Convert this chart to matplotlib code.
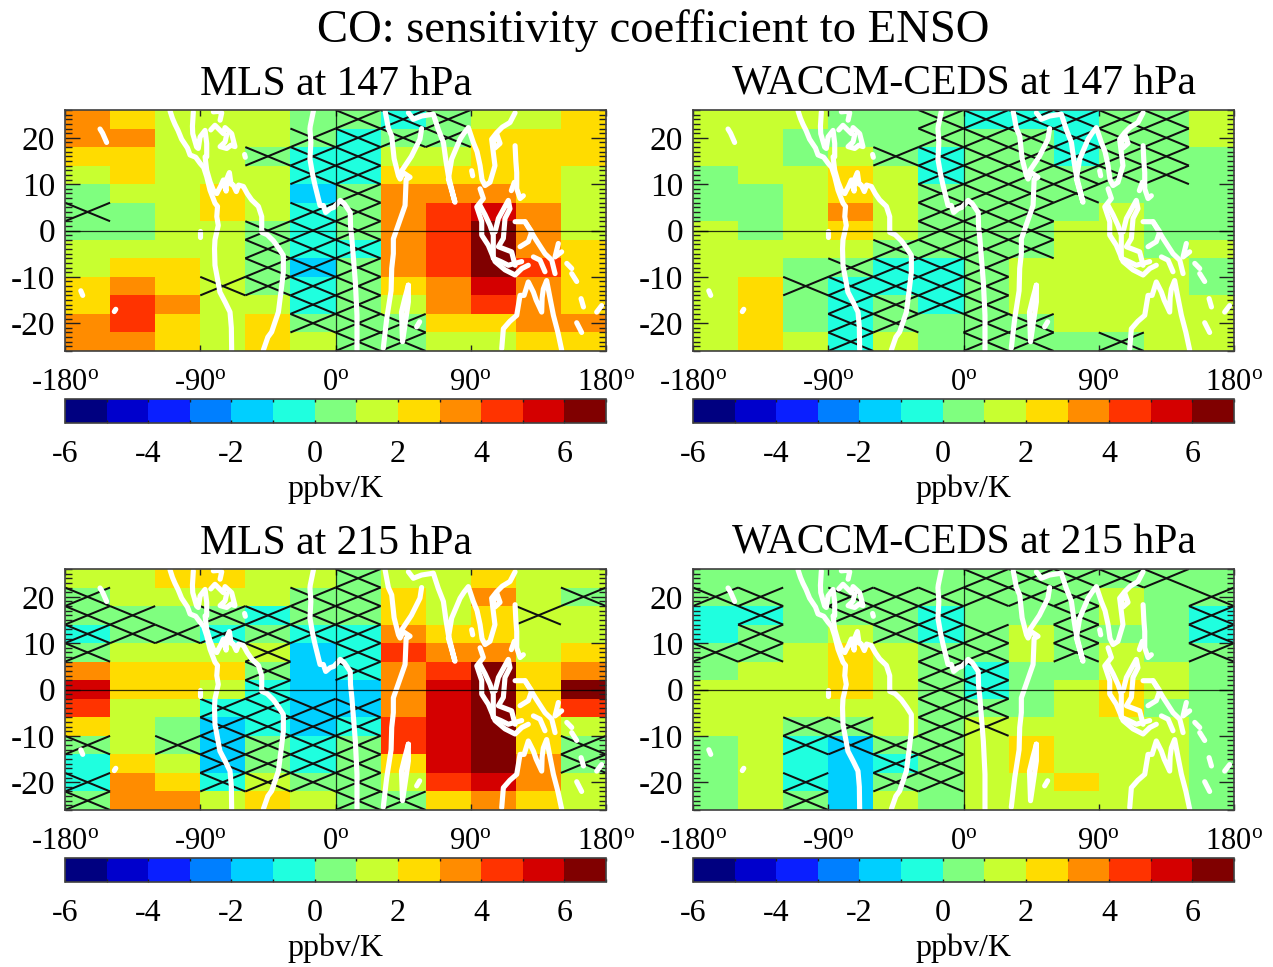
import numpy as np
import matplotlib
matplotlib.use("Agg")
import matplotlib.pyplot as plt
from matplotlib.colors import ListedColormap, BoundaryNorm
from matplotlib.cm import ScalarMappable
from matplotlib.ticker import FixedLocator

plt.rcParams['font.family'] = ['Liberation Serif', 'DejaVu Serif']
plt.rcParams['mathtext.fontset'] = 'custom'
plt.rcParams['mathtext.rm'] = 'Liberation Serif'
plt.rcParams['mathtext.it'] = 'Liberation Serif'

LEVEL_COLORS = ['#000080', '#0000cc', '#0a1fff', '#007fff', '#00cfff', '#1fffdf', '#7fff7f',
                '#c8ff30', '#ffdc00', '#ff8c00', '#ff3300', '#d40000', '#800000']
LEVELS = list(range(-6, 8))
CBAR_TICKS = [-6, -4, -2, 0, 2, 4, 6]
LON_TICKS = [-180, -90, 0, 90, 180]
LAT_TICKS = [-20, -10, 0, 10, 20]
LON_CENTERS = [-165, -135, -105, -75, -45, -15, 15, 45, 75, 105, 135, 165]
LAT_CENTERS = [24, 20, 16, 12, 8, 4, 0, -4, -8, -12, -16, -20, -24]

# each inner list is one longitude column, from the northern row to the southern row
MLS_147 = [
    [3.5, 3.5, 2.5, 1.5, 0.5, 0.5, 0.5, 1.5, 1.5, 2.5, 2.5, 3.5, 3.5],
    [2.5, 3.5, 2.5, 2.5, 1.5, 0.5, 0.5, 1.5, 2.5, 3.5, 4.5, 4.5, 3.5],
    [1.5, 1.5, 1.5, 1.5, 1.5, 1.5, 1.5, 1.5, 2.5, 2.5, 3.5, 2.5, 2.5],
    [1.5, 1.5, 1.5, 1.5, 2.5, 2.5, 1.5, 1.5, 1.5, 1.5, 1.5, 1.5, 1.5],
    [1.5, 1.5, 0.5, 1.5, 1.5, 1.5, 0.5, 0.5, 0.5, 0.5, 1.5, 2.5, 2.5],
    [0.5, 0.5, -0.5, -0.5, -1.5, -0.5, -0.5, -0.5, -1.5, -0.5, -0.5, 0.5, 1.5],
    [0.5, -0.5, -0.5, -0.5, 0.5, 0.5, 0.5, -0.5, 0.5, 0.5, 0.5, 0.5, 0.5],
    [-0.5, 0.5, 1.5, 2.5, 3.5, 3.5, 3.5, 3.5, 3.5, 2.5, 1.5, 0.5, 0.5],
    [0.5, 0.5, 1.5, 2.5, 3.5, 4.5, 4.5, 4.5, 4.5, 3.5, 3.5, 2.5, 1.5],
    [1.5, 2.5, 2.5, 2.5, 3.5, 5.5, 6.5, 6.5, 6.5, 5.5, 4.5, 2.5, 1.5],
    [1.5, 2.5, 2.5, 2.5, 2.5, 3.5, 3.5, 3.5, 4.5, 3.5, 3.5, 3.5, 2.5],
    [2.5, 2.5, 2.5, 1.5, 1.5, 1.5, 1.5, 2.5, 2.5, 2.5, 2.5, 3.5, 2.5],
]
WACCM_147 = [
    [1.5, 1.5, 1.5, 0.5, 0.5, 0.5, 1.5, 1.5, 1.5, 1.5, 1.5, 1.5, 1.5],
    [1.5, 1.5, 1.5, 1.5, 0.5, 0.5, 0.5, 1.5, 1.5, 2.5, 2.5, 2.5, 2.5],
    [1.5, 0.5, 0.5, 1.5, 1.5, 1.5, 1.5, 1.5, 0.5, 0.5, 0.5, 0.5, 1.5],
    [0.5, 0.5, 1.5, 2.5, 2.5, 3.5, 2.5, 1.5, 0.5, -0.5, -0.5, -0.5, -0.5],
    [0.5, 0.5, 0.5, 1.5, 1.5, 1.5, 1.5, 0.5, -0.5, -0.5, 0.5, 0.5, 1.5],
    [0.5, 0.5, -0.5, -0.5, 0.5, 0.5, 0.5, 0.5, -0.5, -0.5, -0.5, 0.5, 0.5],
    [-0.5, 0.5, 0.5, 0.5, 0.5, 0.5, 0.5, 0.5, 0.5, 0.5, 0.5, 0.5, 0.5],
    [-0.5, 0.5, 0.5, 0.5, 0.5, 0.5, 0.5, 0.5, 1.5, 1.5, 1.5, 0.5, 0.5],
    [-0.5, -0.5, -0.5, 0.5, 0.5, 0.5, 1.5, 1.5, 1.5, 1.5, 1.5, 1.5, 0.5],
    [0.5, 0.5, 0.5, 0.5, 0.5, 1.5, 1.5, 1.5, 1.5, 1.5, 1.5, 1.5, 0.5],
    [0.5, 0.5, 0.5, 0.5, 0.5, 0.5, 0.5, 0.5, 1.5, 1.5, 1.5, 1.5, 1.5],
    [1.5, 1.5, 0.5, 0.5, 0.5, 0.5, 0.5, 1.5, 0.5, 0.5, 1.5, 1.5, 1.5],
]
MLS_215 = [
    [1.5, 0.5, 0.5, -0.5, 0.5, 3.5, 5.5, 4.5, 2.5, 0.5, -0.5, -0.5, 0.5],
    [1.5, 1.5, 0.5, 0.5, 1.5, 2.5, 2.5, 1.5, 1.5, 1.5, 2.5, 3.5, 3.5],
    [2.5, 1.5, 0.5, 0.5, 1.5, 2.5, 2.5, 1.5, 0.5, 0.5, 1.5, 2.5, 3.5],
    [2.5, 1.5, 0.5, -0.5, 1.5, 2.5, 1.5, -0.5, -1.5, -1.5, -1.5, -0.5, 1.5],
    [1.5, 1.5, -0.5, 0.5, 1.5, 0.5, -0.5, -0.5, -0.5, 0.5, 0.5, 1.5, 2.5],
    [1.5, 0.5, 0.5, -0.5, -1.5, -1.5, -1.5, -1.5, -1.5, -0.5, -0.5, 0.5, 1.5],
    [0.5, 0.5, 0.5, -0.5, -0.5, -0.5, -1.5, -1.5, -0.5, 0.5, 0.5, 0.5, 0.5],
    [1.5, 2.5, 2.5, 3.5, 4.5, 3.5, 3.5, 3.5, 4.5, 4.5, 2.5, 1.5, 0.5],
    [1.5, 1.5, 1.5, 2.5, 3.5, 4.5, 5.5, 5.5, 5.5, 5.5, 5.5, 4.5, 2.5],
    [2.5, 3.5, 2.5, 2.5, 3.5, 6.5, 6.5, 6.5, 6.5, 6.5, 6.5, 5.5, 3.5],
    [1.5, 1.5, 1.5, 1.5, 1.5, 2.5, 2.5, 2.5, 2.5, 2.5, 3.5, 3.5, 2.5],
    [1.5, 0.5, 1.5, 1.5, 2.5, 3.5, 6.5, 4.5, 1.5, 0.5, 0.5, 1.5, 1.5],
]
WACCM_215 = [
    [0.5, 0.5, -0.5, -0.5, 0.5, 0.5, 1.5, 1.5, 1.5, 0.5, 0.5, 0.5, 0.5],
    [0.5, 0.5, -0.5, 0.5, 0.5, 1.5, 1.5, 1.5, 1.5, 1.5, 1.5, 1.5, 1.5],
    [0.5, 0.5, 0.5, 0.5, 1.5, 1.5, 1.5, 1.5, 0.5, -0.5, -0.5, -0.5, 0.5],
    [0.5, 0.5, 0.5, 1.5, 2.5, 2.5, 2.5, 1.5, 0.5, -1.5, -1.5, -1.5, -1.5],
    [0.5, 0.5, 0.5, 0.5, 1.5, 1.5, 1.5, 1.5, 1.5, 0.5, -0.5, 0.5, 1.5],
    [0.5, 0.5, -0.5, -0.5, 0.5, 0.5, 0.5, 0.5, 0.5, 0.5, 0.5, 0.5, 0.5],
    [0.5, 0.5, 0.5, 0.5, 0.5, -0.5, -0.5, 0.5, 1.5, 1.5, 1.5, 1.5, 1.5],
    [0.5, 0.5, 0.5, 1.5, 1.5, 0.5, 0.5, 0.5, 1.5, 2.5, 2.5, 1.5, 1.5],
    [0.5, 0.5, 0.5, 0.5, 0.5, 0.5, 1.5, 1.5, 1.5, 1.5, 1.5, 2.5, 1.5],
    [0.5, 1.5, 1.5, 0.5, 1.5, 1.5, 2.5, 2.5, 1.5, 1.5, 1.5, 1.5, 1.5],
    [0.5, 0.5, 0.5, 0.5, 0.5, 1.5, 1.5, 0.5, 1.5, 1.5, 1.5, 1.5, 1.5],
    [0.5, 0.5, -0.5, -0.5, 0.5, 0.5, 0.5, 0.5, 0.5, 0.5, 0.5, 0.5, 0.5],
]

# crossed (not significant) cells: longitude column index -> row indices
ALL_ROWS = list(range(13))
HATCH_MLS_147 = {0: [5], 3: [9], 4: [2, 6, 7, 8, 9], 5: [1, 2, 3, 5, 6, 7, 8, 9, 10, 11],
                 6: ALL_ROWS, 7: [0, 1, 11, 12], 8: [0, 1]}
HATCH_WACCM_147 = {2: [9], 3: [8, 9, 10, 11, 12], 4: [2, 7, 8, 9, 10, 11],
                   5: list(range(11)), 6: ALL_ROWS, 7: [0, 1, 2, 3, 4, 5, 6, 7, 11, 12],
                   8: [0, 1, 2, 3, 4], 9: [0, 1, 2, 3, 12], 10: [0, 1, 2, 3]}
HATCH_MLS_215 = {0: [1, 2, 3, 4, 9, 11, 12], 1: [2, 3], 2: [3, 9], 3: [2, 3, 7, 8, 9, 10, 11],
                 4: [2, 3, 4, 5, 6, 7, 8, 9, 10, 11], 5: [1, 2, 3, 7, 8, 9, 10, 11],
                 6: [0, 1, 2, 3, 4, 5, 7, 8, 9, 10, 11, 12], 7: [12], 10: [2], 11: [1, 9, 10]}
HATCH_WACCM_215 = {0: [1, 4], 1: [1, 2, 3, 4], 2: [8, 9, 11, 12], 3: [1, 2, 8, 9],
                   4: [1, 2, 3, 9, 10, 11], 5: [1, 2, 3, 4, 5, 6, 7, 8, 9, 10, 11],
                   6: [0, 1, 3, 4, 5, 6, 7, 8], 7: [0, 1], 8: [0, 1, 2, 3, 4], 9: [0], 10: [0],
                   11: [1, 2, 3, 4]}

# coastlines as (lon, lat) polylines
COASTS = [
    # Central and South America, Pacific side
    [(-110.1, 25.8), (-108.5, 24.2), (-106.8, 22.9), (-104.8, 21.6), (-102.4, 19.7), (-98.5, 17.8), (-96.8, 16.3),
     (-93, 15.8), (-90.1, 14.5), (-87.7, 13.6), (-85.7, 11.6), (-83.5, 8.7), (-80.2, 5.9), (-78.5, 5.2),
     (-79, 3), (-78, 1.1), (-80.2, -2), (-80.5, -3.9), (-80.2, -7.5), (-76.9, -13.3),
     (-73.2, -15.6), (-70.2, -17.6), (-69.3, -21), (-69.1, -25.8)],
    # Gulf of Mexico and Caribbean side
    [(-94.6, 25.6), (-95.2, 22.5), (-95, 20.9), (-92.4, 18), (-91.3, 17.7), (-90.1, 20.2), (-86.8, 21.6),
     (-85.7, 18.8), (-85.7, 15.9), (-86.8, 15.9), (-85.7, 13), (-83.5, 10.5), (-81.3, 8.7), (-79, 8)],
    # Greater Antilles
    [(-83, 21.7), (-80.2, 22.7), (-74.6, 20.9), (-73.5, 22.2), (-69.1, 20.9), (-68, 19.5), (-66.9, 18.1),
     (-69.6, 18.4), (-72.4, 17.7), (-76.8, 18.1), (-73.5, 19.1), (-72.5, 20.5)],
    [(-81.3, 25.6), (-78, 25.7), (-75.7, 25.4), (-76.8, 23.8)],
    # South America, Atlantic side
    [(-79, 8), (-76.5, 9.5), (-74.6, 10.9), (-72.8, 8.5), (-72.4, 11.1), (-70.6, 12.5), (-69.5, 10),
     (-68, 9.8), (-66, 8.4), (-64.5, 9.8), (-61.3, 9.5), (-58.8, 8), (-55.8, 6.6), (-51.3, 5.2), (-49.1, 3),
     (-49.1, -0.4), (-45.5, -0.9), (-41.4, -2.2), (-37.8, -3.8), (-34.7, -5.4), (-34.7, -9), (-36.2, -13), (-38, -17.6),
     (-42.5, -21.9), (-45, -23), (-48, -25.8)],
    # small islands
    [(-156.7, 21.9), (-155, 21), (-152.3, 19)],
    [(-169.5, -13), (-168.2, -14)],
    [(-147.2, -17.5), (-146.2, -17)],
    [(-90.2, -0.2), (-90.2, -1.5)],
    [(-60.5, 16.4), (-60, 15.8)],
    # West Africa
    [(-14.7, 25.8), (-16.8, 22.5), (-17, 21.9), (-16.4, 19), (-17, 15.4), (-15.3, 12.2), (-13.6, 9.7), (-10.3, 5.4),
     (-8.1, 5.4), (-6.5, 3.9), (-3.6, 4.7), (-1, 5), (3.1, 6.5), (5.8, 5.8), (9.8, 3.9), (10, 1), (10.9, -1.8),
     (13.2, -11.1), (14.3, -18.3), (14.3, -25.8)],
    # East Africa
    [(33, 25.8), (35.2, 22), (37.4, 20.4), (39, 15.5), (41.9, 11.8), (43, 11.1), (45, 12.5), (49.6, 11.5),
     (47, 11), (46.3, 5.4), (41, 0.5), (38.5, -1.8), (38.5, -5), (37.4, -8.2), (37, -13), (34.1, -19), (33, -22), (31.8, -25.4)],
    # Arabia
    [(57.3, 22), (56.2, 19.7), (50.5, 16), (43.9, 12.8)],
    # Madagascar
    [(48.5, -11.8), (46, -14.8), (43.9, -17.6), (44.6, -24), (48.5, -15.4), (48.5, -11.8)],
    [(54, -20.8), (56, -19.7)],
    # Arabia, India, Bay of Bengal, Indochina, China
    [(48.5, 25.4), (51.8, 24), (57.3, 24.7), (65.1, 25.1), (68.4, 21.8), (71.8, 19), (73.5, 15), (75.1, 11.8),
     (79.5, 6.1), (75.1, 11.1), (77.3, 15.4), (82.9, 19.7), (85.5, 21), (88.4, 22.2), (91.7, 19), (94.2, 17), (96.2, 14),
     (97.5, 11), (99.5, 9.7), (102.8, 10.4), (106.1, 14), (103.9, 19.7), (107.3, 21.1), (111, 22.3), (116.1, 23.3),
     (119.5, 25.4)],
    # Hainan and Andaman
    [(105, 18.8), (107.3, 20.8), (109.5, 18.8), (106.1, 17.8), (105, 18.8)],
    [(90.6, 12.9), (91.3, 11.8)],
    # Sumatra and Java
    [(96.2, 9), (98.4, 6.9), (94, 5.1), (97.3, 1.9), (97.3, -1), (101.7, -3.2), (106.2, -6.7), (112.8, -8.5),
     (119.5, -9.6), (124, -8.2), (128.3, -7.5)],
    # Malaya
    [(96.2, 5.4), (99.5, 3.4), (102.8, 1.1), (105, -1), (105, -3.9), (105, -6), (110, -6.7), (115, -7.5), (123.9, -6.7)],
    # Borneo
    [(106.2, -0.3), (108.4, 2.6), (115, 6.5), (116.1, 4.7), (112.8, 2.6), (111.7, -1.7), (108.4, -3.5), (117.2, -4.6),
     (119.5, -7.5)],
    # Sulawesi to New Guinea
    [(119.5, 1.9), (126.1, 1.9), (130.6, -0.3), (128.3, -2.4), (122.8, -3.5)],
    [(126.1, 1.9), (132.8, -1.7), (139.4, -5), (143.9, -6.4), (146.1, -9.3)],
    [(131.7, -5.7), (136.1, -6.4), (139.4, -8.9)],
    [(148.3, -2.8), (146.1, -5.7), (150.5, -4.6)],
    [(153.9, -7.1), (157.2, -8.2)],
    [(157.2, -9.3), (160.5, -11)],
    # Philippines
    [(119.5, 18.3), (120, 15), (120.6, 12.5), (120.6, 9), (122.8, 6.9), (125, 7.5)],
    [(119, 10.4), (117, 8.6)],
    # Australia
    [(110.6, -25.5), (111.7, -21.2), (116, -19.6), (120.6, -18.3), (122.8, -14), (125.5, -14), (128.3, -11.1), (131.7, -13.3),
     (133.5, -15), (137.2, -17.6), (137.5, -14.5), (138.3, -12.6), (140.5, -10.8), (143, -15), (145, -18.3), (148, -22), (150.5, -25.8)],
    # Pacific islands
    [(163.4, -14.7), (165, -16.5)],
    [(173.8, -17.6), (177.1, -16.2)],
    [(160.5, -19.9), (163.8, -22)],
]

PANELS = [
    ('MLS at 147 hPa', MLS_147, HATCH_MLS_147, 65, 110),
    ('WACCM-CEDS at 147 hPa', WACCM_147, HATCH_WACCM_147, 693, 110),
    ('MLS at 215 hPa', MLS_215, HATCH_MLS_215, 65, 569),
    ('WACCM-CEDS at 215 hPa', WACCM_215, HATCH_WACCM_215, 693, 569),
]

W, H = 1273, 967
AX_W, AX_H = 541, 241
CB_GAP, CB_H = 48, 24
FRAME = '#404040'

fig = plt.figure(figsize=(W / 100, H / 100), dpi=100)


def rect(left, top, w, h):
    return [left / W, 1 - (top + h) / H, w / W, h / H]


cmap = ListedColormap(LEVEL_COLORS)
norm = BoundaryNorm(LEVELS, cmap.N)
lon_c = np.array(LON_CENTERS, float)
lat_c = np.array(LAT_CENTERS, float)
lon_e = np.r_[lon_c - 15, lon_c[-1] + 15]
lat_e = np.r_[lat_c + 2, lat_c[-1] - 2]

for title, cols, hatch, left, top in PANELS:
    ax = fig.add_axes(rect(left, top, AX_W, AX_H))
    ax.pcolormesh(lon_e, lat_e, np.array(cols).T, cmap=cmap, norm=norm)
    for col, rows in hatch.items():
        for row in rows:
            x0, x1 = lon_e[col], lon_e[col + 1]
            y0, y1 = lat_e[row], lat_e[row + 1]
            ax.plot([x0, x1], [y0, y1], color='#101010', lw=1.45, zorder=3, solid_capstyle='butt')
            ax.plot([x0, x1], [y1, y0], color='#101010', lw=1.45, zorder=3, solid_capstyle='butt')
    for line in COASTS:
        xs, ys = zip(*line)
        ax.plot(xs, ys, color='white', lw=3.7, zorder=4, solid_joinstyle='round', solid_capstyle='round')
    ax.axhline(0, color='black', lw=0.9, alpha=0.8, zorder=5)
    ax.axvline(0, color='black', lw=0.9, alpha=0.8, zorder=5)
    ax.set_xlim(-180, 180)
    ax.set_ylim(-26, 26)
    ax.set_xticks(LON_TICKS)
    ax.set_xticklabels([f'{v}$^{{\\mathrm{{o}}}}$' for v in LON_TICKS], fontsize=22)
    ax.set_yticks(LAT_TICKS)
    ax.set_yticklabels([str(v) for v in LAT_TICKS], fontsize=24)
    ax.yaxis.set_minor_locator(FixedLocator(np.arange(-26, 27, 1)))
    ax.tick_params(axis='x', direction='in', length=4, width=1, top=True, pad=12.5, color='#202020')
    ax.tick_params(axis='y', which='major', direction='in', length=11, width=1, right=True, pad=7, color='#202020')
    ax.tick_params(axis='y', which='minor', direction='in', length=5, width=1, right=True, color='#202020')
    for s in ax.spines.values():
        s.set_color(FRAME)
        s.set_linewidth(1.2)
        s.set_zorder(6)
    ax.set_title(title, fontsize=30, pad=11)

    cax = fig.add_axes(rect(left, top + AX_H + CB_GAP, AX_W, CB_H))
    cb = fig.colorbar(ScalarMappable(norm=norm, cmap=cmap), cax=cax, orientation='horizontal',
                      spacing='proportional')
    cb.set_ticks(CBAR_TICKS)
    cb.set_ticklabels([str(v) for v in CBAR_TICKS], fontsize=23)
    cb.ax.minorticks_off()
    cax.xaxis.set_minor_locator(FixedLocator(LEVELS))
    cax.tick_params(axis='x', which='both', direction='in', length=2, width=1, top=True, pad=12, color='#202020')
    cb.outline.set_edgecolor(FRAME)
    cb.outline.set_linewidth(1.2)
    cax.set_xlabel('ppbv/K', fontsize=23, labelpad=4)

fig.text(653 / W, 1 - 30.5 / H, 'CO: sensitivity coefficient to ENSO', ha='center', va='center', fontsize=33.6)
fig.savefig('out.png', dpi=100)
